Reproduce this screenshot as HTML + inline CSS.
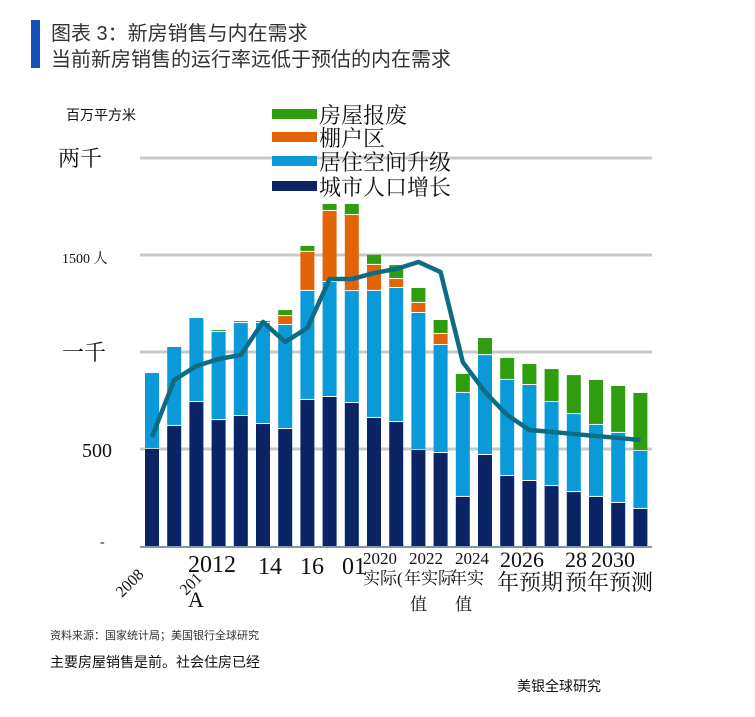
<!DOCTYPE html>
<html><head><meta charset="utf-8"><style>
body{margin:0;background:#fff;width:755px;height:717px;overflow:hidden;position:relative;font-family:"Liberation Serif","Noto Serif CJK SC",serif}
.t{position:absolute;white-space:nowrap;color:#111}
.s{font-family:"Liberation Sans","Noto Sans CJK SC",sans-serif}
</style></head><body>
<div style="position:absolute;left:31px;top:20px;width:9px;height:48px;background:#1450b8"></div>
<div class="t s" style="left:51px;top:22px;font-size:20px;color:#333;line-height:24px">图表 3：新房销售与内在需求</div>
<div class="t s" style="left:51px;top:48px;font-size:20px;color:#333;line-height:24px">当前新房销售的运行率远低于预估的内在需求</div>
<div class="t s" style="left:66px;top:105px;font-size:14px">百万平方米</div>
<svg id="c" width="755" height="717" style="position:absolute;left:0;top:0"></svg>
<div class="t s" style="left:50px;top:627px;font-size:11px;color:#333">资料来源：国家统计局；美国银行全球研究</div>
<div class="t s" style="left:50px;top:652px;font-size:14px">主要房屋销售是前。社会住房已经</div>
<div class="t s" style="left:517px;top:676px;font-size:14px">美银全球研究</div>
<script>
const years=["2008","2009","2010","2011","2012","2013","2014","2015","2016","2017","2018","2019","2020","2021","2022","2023","2024","2025","2026","2027","2028","2029","2030"];
const urban=[500,619,742,649,670,629,603,753,768,737,660,639,495,479,253,469,361,335,309,278,253,222,191];
const upgrade=[392,407,433,454,479,521,536,562,593,577,655,691,706,557,536,515,495,495,433,402,371,361,299];
const shanty=[0,0,0,0,0,0,46,201,366,392,134,46,52,57,0,0,0,0,0,0,0,0,0];
const demolish=[0,0,0,10,10,10,31,31,36,57,52,72,77,72,98,88,113,108,170,201,232,242,299];
const sales=[562,856,928,964,985,1155,1052,1124,1376,1376,1407,1428,1464,1412,948,794,675,598,588,577,567,557,546];
const yTicks=[0,500,1000,1500,2000];
const yTickLabels=["-","500","一千","1500 人","两千"];
const NS="http://www.w3.org/2000/svg";
const svg=document.getElementById('c');
const base=546,k=0.194,x0=145,step=22.2,bw=14;
const Y=v=>base-v*k;
const X=i=>x0+i*step;
function mk(t,a){const e=document.createElementNS(NS,t);for(const n in a)e.setAttribute(n,a[n]);svg.appendChild(e);return e;}
const tickPos=[[100,546,14],[82,457,20],[62,356,22],[62,253,14],[58,164,22]];
yTicks.forEach((v,i)=>{
 if(v>0){const g=mk('line',{x1:140,x2:652,y1:Y(v),y2:Y(v),stroke:'#c8c8c8','stroke-width':3});
 
 }
 const t=mk('text',{x:tickPos[i][0],y:Y(v)+(i==0?0:8),'font-size':tickPos[i][2],'font-family':'"Liberation Serif","Noto Serif CJK SC",serif',fill:'#111'});
 t.textContent=yTickLabels[i];
 
 
});
const series=[[urban,'#0a2466','bar-urban'],[upgrade,'#0a9ad9','bar-upgrade'],[shanty,'#e36307','bar-shanty'],[demolish,'#2e9e0e','bar-demolish']];
years.forEach((yr,i)=>{
 let acc=0;
 series.forEach(([arr,col,nm])=>{
  const v=arr[i];if(v<=0)return;
  const r=mk('rect',{x:X(i),y:Y(acc+v),width:bw,height:Math.max(v*k-(acc>0?1:0),0.5),fill:col});
  
  
  acc+=v;
 });
});
const bl=mk('line',{x1:140,x2:652,y1:base+1,y2:base+1,stroke:'#0a2466','stroke-width':1});


const pl=mk('polyline',{points:sales.map((v,i)=>(X(i)+bw/2)+','+Y(v)).join(' '),fill:'none',stroke:'#0b6c84','stroke-width':4.5,'stroke-linejoin':'round'});


const leg=[['#2e9e0e','房屋报废',109],['#e36307','棚户区',132],['#0a9ad9','居住空间升级',156],['#0a2466','城市人口增长',181]];
leg.forEach(([c,l,y])=>{
 const r=mk('rect',{x:272,y:y,width:45,height:10,fill:c});
 
 
 const t=mk('text',{x:319,y:y+14,'font-size':22,'font-family':'"Liberation Serif","Noto Serif CJK SC",serif',fill:'#111'});
 t.textContent=l;
 
 
});
const xl=[['2008',122,598,16,-45],['201',186,596,16,-45],['2012',188,572,24,0],['A',188,607,22,0],['14',258,574,24,0],['16',300,574,24,0],['01',342,574,24,0],['2020',363,564,17,0],['实际(',363,584,17,0],['2022',409,564,17,0],['年实际',404,584,17,0],['值',410,610,17,0],['2024',455,564,17,0],['年实',450,584,17,0],['值',455,610,17,0],['2026',500,567,22,0],['年预期',497,590,22,0],['28',565,567,22,0],['2030',591,567,22,0],['预年预测',565,590,22,0]];
xl.forEach(([s,x,y,f,r])=>{
 const t=mk('text',{x:x,y:y,'font-size':f,'font-family':'"Liberation Serif","Noto Serif CJK SC",serif',fill:'#111',transform:r?`rotate(${r} ${x} ${y})`:''});
 t.textContent=s;
 
 
});
</script>
</body></html>
